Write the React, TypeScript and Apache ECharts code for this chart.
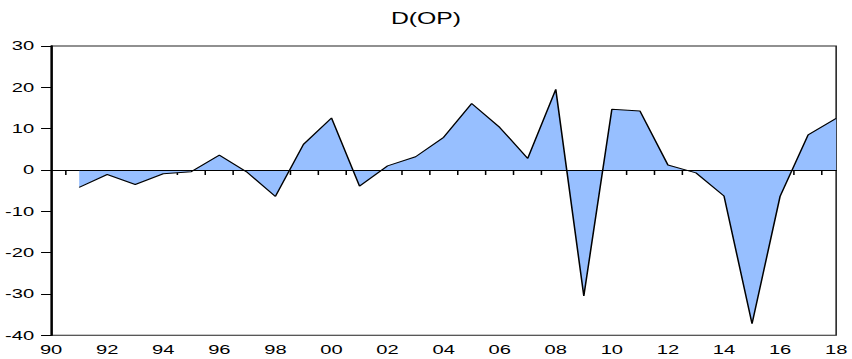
import React, { useEffect, useRef } from "react";
import * as echarts from "echarts";

// Annual first differences of OP, 1991–2018
const years = [
  1991, 1992, 1993, 1994, 1995, 1996, 1997, 1998, 1999, 2000,
  2001, 2002, 2003, 2004, 2005, 2006, 2007, 2008, 2009, 2010,
  2011, 2012, 2013, 2014, 2015, 2016, 2017, 2018,
];
const dOP = [
  -4.2, -1.1, -3.5, -0.9, -0.4, 3.6, -0.6, -6.4, 6.2, 12.6,
  -3.9, 1.0, 3.2, 7.9, 16.1, 10.3, 2.8, 19.5, -30.5, 14.7,
  14.3, 1.2, -0.7, -6.3, -37.2, -6.4, 8.5, 12.5,
];
const xLabelYears = [
  1990, 1992, 1994, 1996, 1998, 2000, 2002, 2004, 2006, 2008,
  2010, 2012, 2014, 2016, 2018,
];
const title = "D(OP)";

// The chart is laid out narrow and stretched horizontally on screen.
const BASE_W = 550;
const H = 359;
const STRETCH = 852 / BASE_W;

export default function App() {
  const ref = useRef<HTMLDivElement>(null);

  useEffect(() => {
    if (!ref.current) return;
    const chart = echarts.init(ref.current, null, { renderer: "svg" });
    const font = "'Liberation Sans', Arial, Helvetica, sans-serif";
    const xMin = 1990;
    const xMax = 2018;
    const tickYears: number[] = [];
    for (let y = xMin; y < xMax; y++) tickYears.push(y + 0.5);

    chart.setOption({
      animation: false,
      backgroundColor: "#ffffff",
      title: {
        text: title,
        left: "center",
        top: 5,
        textStyle: {
          fontFamily: font,
          fontSize: 16,
          fontWeight: "normal",
          color: "#000",
        },
      },
      grid: {
        left: 33,
        right: 8.6,
        top: 46,
        bottom: 23.7,
        show: true,
        borderColor: "#222",
        borderWidth: 1,
        backgroundColor: "transparent",
      },
      xAxis: {
        type: "value",
        min: xMin,
        max: xMax,
        splitLine: { show: false },
        axisLine: { show: true, lineStyle: { color: "#000", width: 1 } },
        axisTick: {
          show: true,
          length: 5,
          inside: false,
          customValues: tickYears,
          lineStyle: { color: "#000", width: 1 },
        },
        axisLabel: {
          customValues: xLabelYears,
          margin: 8,
          fontFamily: font,
          fontSize: 13,
          color: "#000",
          formatter: (v: number) => String(Math.round(v) % 100).padStart(2, "0"),
        },
      },
      yAxis: {
        type: "value",
        min: -40,
        max: 30,
        interval: 10,
        splitLine: { show: false },
        axisLine: { show: true, lineStyle: { color: "#000", width: 1.3 } },
        axisTick: {
          show: true,
          length: 6.5,
          inside: false,
          lineStyle: { color: "#000", width: 1 },
        },
        axisLabel: {
          margin: 11,
          fontFamily: font,
          fontSize: 13,
          color: "#000",
        },
      },
      series: [
        {
          type: "line",
          data: years.map((y, i) => [y, dOP[i]]),
          symbol: "none",
          lineStyle: { color: "#000", width: 1 },
          areaStyle: { color: "#97bfff", opacity: 1, origin: 0 },
          markLine: {
            silent: true,
            symbol: "none",
            label: { show: false },
            lineStyle: { color: "#000", width: 1, type: "solid" },
            data: [
              [
                { coord: [years[0], 0] },
                { coord: [years[years.length - 1], 0] },
              ],
            ],
          },
        },
      ],
    });

    return () => chart.dispose();
  }, []);

  return (
    <div
      style={{
        position: "absolute",
        left: 0,
        top: 0,
        width: 852,
        height: H,
        overflow: "hidden",
        background: "#fff",
      }}
    >
      <div
        ref={ref}
        style={{
          width: BASE_W,
          height: H,
          transform: `scaleX(${STRETCH})`,
          transformOrigin: "0 0",
        }}
      />
    </div>
  );
}
